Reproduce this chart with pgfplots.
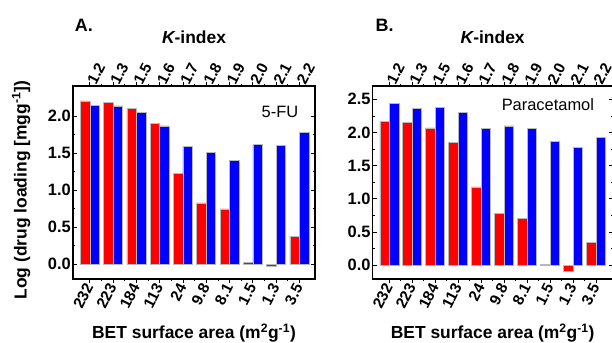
\documentclass[border=0pt]{standalone}
\usepackage{pgfplots}
\pgfplotsset{compat=1.18}
\usepackage{pgfplotstable}
\usepackage{fontspec}
\setmainfont{Liberation Sans}

\pgfplotstableread{
x red blue
0 2.21 2.15
1 2.19 2.14
2 2.11 2.05
3 1.90 1.87
4 1.23 1.59
5 0.83 1.51
6 0.75 1.40
7 0.02 1.62
8 -0.03 1.61
9 0.38 1.78
}\dataA

\pgfplotstableread{
x red blue
0 2.17 2.44
1 2.15 2.36
2 2.07 2.38
3 1.85 2.30
4 1.18 2.06
5 0.78 2.10
6 0.70 2.06
7 0.01 1.87
8 -0.09 1.78
9 0.34 1.93
}\dataB

\pgfplotsset{
  tickfont/.style={font=\fontsize{16.5}{18}\selectfont\bfseries},
  xtickfont/.style={font=\fontsize{15.5}{17}\selectfont\bfseries},
  panel/.style={
    scale only axis, width=242bp, height=193bp,
    xmin=-0.72, xmax=9.67, clip=false,
    xtick={0,...,9}, minor x tick num=1,
    xticklabels={232,223,184,113,24,9.8,8.1,1.5,1.3,3.5},
    xticklabel style={xtickfont, rotate=63, anchor=east, inner sep=1.5pt},
    ybar=0pt, bar width=9.5bp,
    axis line style={line width=1.1pt},
    major tick length=4bp, minor tick length=2bp,
    every tick/.style={black, line width=0.7pt},
    minor y tick num=1,
    yticklabel style={tickfont, inner sep=2pt,
      /pgf/number format/fixed, /pgf/number format/fixed zerofill,
      /pgf/number format/precision=1,
      /pgf/number format/assume math mode=true},
    xlabel={\bfseries BET surface area (m\textsuperscript{2}g\textsuperscript{-1})},
    xlabel style={font=\fontsize{17.5}{19}\selectfont, at={(axis description cs:0.5,-0.28)}, anchor=center},
  },
  toppanel/.style={
    scale only axis, width=242bp, height=193bp,
    xmin=-0.72, xmax=9.67,
    axis x line*=top, axis y line=none,
    xtick={0,...,9},
    xticklabels={1.2,1.3,1.5,1.6,1.7,1.8,1.9,2.0,2.1,2.2},
    xticklabel style={xtickfont, rotate=63, anchor=west, inner sep=3pt},
    major tick length=0pt,
    axis line style={line width=1.1pt},
    xlabel={\bfseries\itshape K\upshape-index},
    xlabel style={font=\fontsize{17.5}{19}\selectfont, at={(axis description cs:0.5,1.254)}, anchor=center},
  },
  redbar/.style={fill={rgb,255:red,255;green,0;blue,0}, draw=gray!55, line width=0.5pt},
  bluebar/.style={fill={rgb,255:red,0;green,0;blue,255}, draw=gray!55, line width=0.5pt},
}

\begin{document}
\begin{tikzpicture}
\useasboundingbox (0,0) rectangle (612bp,-343bp);
\clip (0,0) rectangle (612bp,-343bp);

% Panel A
\begin{axis}[panel, at={(73bp,-279bp)}, anchor=south west,
  ymin=-0.2, ymax=2.41, ytick={0,0.5,...,2.0},
  ylabel={\bfseries Log (drug loading [mgg\textsuperscript{-1}])},
  ylabel style={font=\fontsize{17.5}{19}\selectfont, at={(axis description cs:-0.214,0.46)}, anchor=center},
]
\addplot[redbar] table[x=x,y=red]{\dataA};
\addplot[bluebar] table[x=x,y=blue]{\dataA};
\node[font=\fontsize{16.5}{18}\selectfont] at (axis description cs:0.855,0.865) {5-FU};
\node[font=\fontsize{18}{19}\selectfont\bfseries] at (axis description cs:0.045,1.316) {A.};
\end{axis}
\begin{axis}[toppanel, at={(73bp,-279bp)}, anchor=south west, ymin=0, ymax=1]
\end{axis}

% Panel B
\begin{axis}[panel, at={(372.7bp,-279bp)}, anchor=south west, width=240bp,
  xmin=-0.72, xmax=9.72,
  ymin=-0.21, ymax=2.7, ytick={0,0.5,...,2.5},
]
\addplot[redbar] table[x=x,y=red]{\dataB};
\addplot[bluebar] table[x=x,y=blue]{\dataB};
\node[font=\fontsize{16.5}{18}\selectfont] at (axis description cs:0.73,0.905) {Paracetamol};
\node[font=\fontsize{18}{19}\selectfont\bfseries] at (axis description cs:0.05,1.316) {B.};
\end{axis}
\begin{axis}[toppanel, at={(372.7bp,-279bp)}, anchor=south west, width=240bp,
  xmin=-0.72, xmax=9.72, ymin=0, ymax=1]
\end{axis}
\end{tikzpicture}
\end{document}
